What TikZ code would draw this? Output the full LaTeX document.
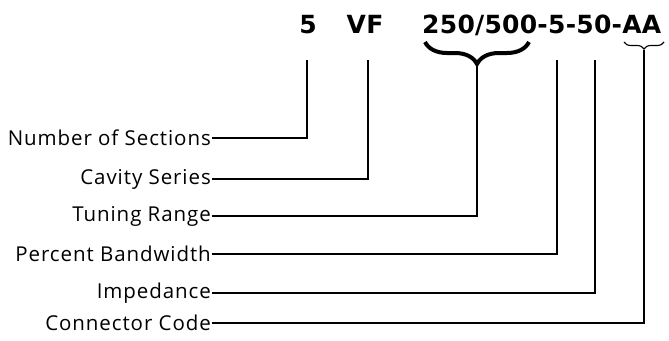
\documentclass[tikz,border=0pt]{standalone}
\usepackage{fontspec}
\setmainfont{Open Sans}
\newfontfamily\labfont[LetterSpace=4.5]{Open Sans}
\newfontfamily\codefont[LetterSpace=1]{DejaVu Sans}
\usetikzlibrary{decorations.pathreplacing}
\begin{document}
\begin{tikzpicture}[x=1pt,y=-1pt,
  lab/.style={anchor=east,inner sep=1pt,font=\fontsize{20.5}{22}\selectfont\labfont},
  code/.style={anchor=base,inner sep=0pt,font=\fontsize{25}{27}\selectfont\codefont\bfseries},
  conn/.style={line width=1.1pt}]
\useasboundingbox (0,0) rectangle (669,340);
% code
\node[code] (n5) at (308,33) {5};
\node[code] (nvf) at (365,33) {VF};
\node[code,anchor=base west] (nrest) at (422,33) {250/500-5-50-AA};
% braces
\draw[decorate,decoration={brace,mirror,amplitude=22pt},line width=4pt] (425,42) -- (529,42);
\coordinate (btip) at (477,66);
\draw[decorate,decoration={brace,mirror,amplitude=7pt},line width=1.1pt] (624,42) -- (664,42);
\coordinate (atip) at (644,50);
% tops
\coordinate (t1) at (307,60);
\coordinate (t2) at (368,60);
\coordinate (t4) at (557,60);
\coordinate (t5) at (595,60);
% labels
\node[lab] (l1) at (212,138) {Number of Sections};
\node[lab] (l2) at (212,179) {Cavity Series};
\node[lab] (l3) at (212,216) {Tuning Range};
\node[lab] (l4) at (212,254) {Percent Bandwidth};
\node[lab] (l5) at (212,293) {Impedance};
\node[lab] (l6) at (212,323) {Connector Code};
% connectors
\draw[conn] (l1.east) -| (t1);
\draw[conn] (l2.east) -| (t2);
\draw[conn] (l3.east) -| (btip);
\draw[conn] (l4.east) -| (t4);
\draw[conn] (l5.east) -| (t5);
\draw[conn] (l6.east) -| (atip);
\end{tikzpicture}
\end{document}
